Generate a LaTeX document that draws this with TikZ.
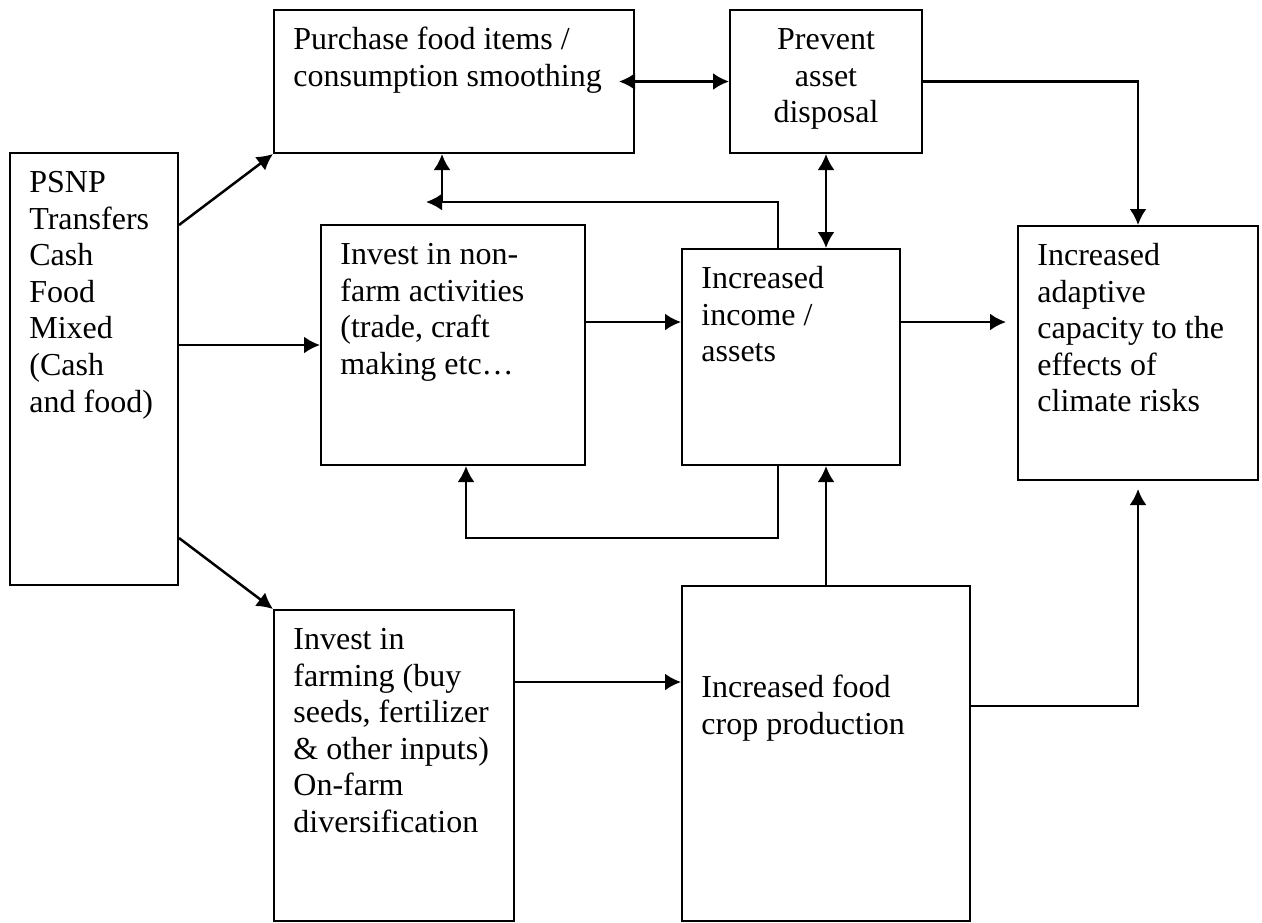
\documentclass[tikz,border=0pt]{standalone}
\usepackage{fontspec}
\setmainfont{Liberation Serif}
\usetikzlibrary{arrows.meta}

\tikzset{
  box/.style={draw, line width=1pt, inner sep=0pt},
  boxtext/.style={anchor=north west, inner sep=0pt, align=left, font=\fontsize{16}{18.3}\selectfont},
  link/.style={line width=1.25pt, ->},
}

\begin{document}
\begin{tikzpicture}[x=0.5pt, y=-0.5pt, >={Latex[length=8pt,width=8.5pt]}]
\useasboundingbox (0,0) rectangle (1262,922);

\def\tx{10pt}
\def\ty{-7.2pt}

% boxes
\node [box, minimum width=84pt, minimum height=216pt] (psnp) at (94,369) {};
\node [box, minimum width=180pt, minimum height=71.5pt] (purchase) at (454,81.5) {};
\node [box, minimum width=96pt, minimum height=71.5pt] (prevent) at (826,81.5) {};
\node [box, minimum width=132pt, minimum height=120pt] (nonfarm) at (453,345) {};
\node [box, minimum width=109pt, minimum height=108pt] (income) at (791,357) {};
\node [box, minimum width=120pt, minimum height=127pt] (adaptive) at (1138,353) {};
\node [box, minimum width=120pt, minimum height=155.5pt] (farming) at (394,765.5) {};
\node [box, minimum width=144pt, minimum height=167.5pt] (crop) at (826,753.5) {};

% texts
\node [boxtext] (psnp-t) at ([shift={(\tx,\ty)}]psnp.north west)
  {\strut PSNP\\Transfers\\Cash\\Food\\Mixed\\(Cash\\and food)};
\node [boxtext] (purchase-t) at ([shift={(\tx,\ty)}]purchase.north west)
  {\strut Purchase food items /\\consumption smoothing};
\node [boxtext, anchor=north, align=center] (prevent-t) at ([yshift=\ty]prevent.north)
  {\strut Prevent\\asset\\disposal};
\node [boxtext] (nonfarm-t) at ([shift={(\tx,\ty)}]nonfarm.north west)
  {\strut Invest in non-\\farm activities\\(trade, craft\\making etc…};
\node [boxtext] (income-t) at ([shift={(\tx,\ty)}]income.north west)
  {\strut Increased\\income /\\assets};
\node [boxtext] (adaptive-t) at ([shift={(\tx,\ty)}]adaptive.north west)
  {\strut Increased\\adaptive\\capacity to the\\effects of\\climate risks};
\node [boxtext] (farming-t) at ([shift={(\tx,\ty)}]farming.north west)
  {\strut Invest in\\farming (buy\\seeds, fertilizer\\\& other inputs)\\On-farm\\diversification};
\node [boxtext] (crop-t) at ([shift={(\tx,-43.2pt)}]crop.north west)
  {\strut Increased food\\crop production};

% bends and rows
\coordinate (upA) at (778,202);
\coordinate (upB) at (442,202);
\coordinate (loopA) at (778,538);
\coordinate (loopB) at (466,538);
\coordinate (rowA) at (0,225);
\coordinate (rowB) at (0,538);
\coordinate (rowC) at (0,322);
\coordinate (rowD) at (0,682);
\coordinate (rowE) at (0,706);

% connectors
\draw [link] (psnp.east |- rowA) -- (purchase.south west);
\draw [link] (psnp.east |- nonfarm.west) -- (nonfarm.west);
\draw [link] (psnp.east |- rowB) -- (farming.north west);
\draw [link, <->, shorten <=-8pt] (purchase.east) -- (prevent.west);
\draw [link] (prevent.east) -| (adaptive.north);
\draw [link, <->] (prevent.south) -- (prevent.south |- income.north);
\draw [link, shorten >=-8pt] (upA |- income.north) -- (upA) -- (upB);
\draw [link] (upB) -- (upB |- purchase.south);
\draw [link] (nonfarm.east |- rowC) -- (income.west |- rowC);
\draw [link, shorten >=5.5pt] (income.east |- rowC) -- (adaptive.west |- rowC);
\draw [link] (loopA |- income.south) -- (loopA) -- (loopB) -- (loopB |- nonfarm.south);
\draw [link] (crop.north) -- (crop.north |- income.south);
\draw [link] (farming.east |- rowD) -- (crop.west |- rowD);
\draw [link, shorten >=4pt] (crop.east |- rowE) -| (adaptive.south);
\end{tikzpicture}
\end{document}
